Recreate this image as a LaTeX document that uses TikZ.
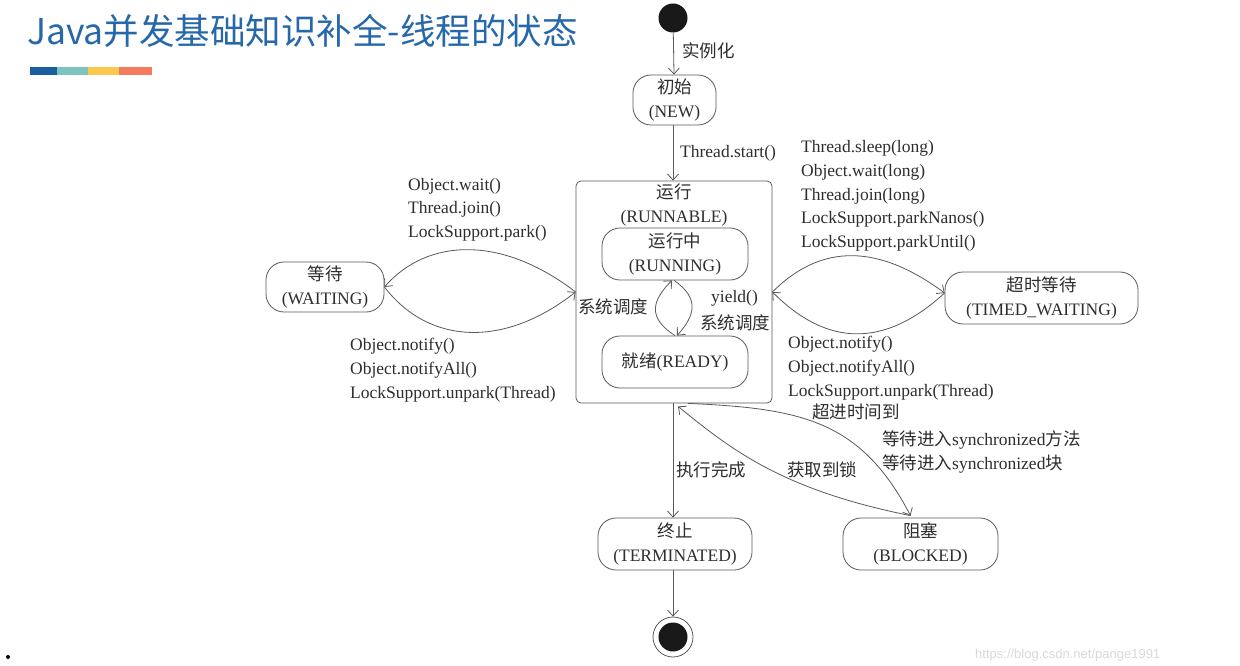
\documentclass[tikz,border=0pt]{standalone}
\usepackage{fontspec}
\setmainfont{Liberation Serif}
\newfontfamily\cjk{Noto Sans CJK SC}
\newfontfamily\wmfont{Liberation Sans}
\usetikzlibrary{arrows.meta}
\definecolor{ln}{HTML}{5A5A5A}
\definecolor{txt}{HTML}{2E2E2E}
\definecolor{titleblue}{HTML}{2668AA}
\definecolor{barA}{HTML}{1B5E9F}
\definecolor{barB}{HTML}{7DC3BF}
\definecolor{barC}{HTML}{FBC94E}
\definecolor{barD}{HTML}{F47B5B}
\begin{document}
\begin{tikzpicture}[x=1pt,y=-1pt,
  every node/.style={font=\fontsize{17.5}{24.5}\selectfont, text=txt, inner sep=0pt},
  state/.style={draw=ln, line width=0.8pt, rounded corners=18pt, align=center},
  arr/.style={draw=ln, line width=0.8pt, -{Straight Barb[length=6pt,width=11pt]}},
  lbl/.style={align=left, anchor=west, font=\fontsize{17.5}{23.7}\selectfont}
]
\useasboundingbox[fill=white] (0,0) rectangle (1240,666);

% title and colour bar
\node[anchor=west, font=\cjk\fontsize{35.5}{36}\selectfont, text=titleblue] (title) at (27,31) {Java并发基础知识补全-线程的状态};
\fill[barA] (30,67) rectangle (57,75);
\fill[barB] (57,67) rectangle (88,75);
\fill[barC] (88,67) rectangle (119,75);
\fill[barD] (119,67) rectangle (152,75);

% start / end
\node[circle, fill=black!90, minimum size=29pt] (start) at (673,18) {};
\node[circle, draw=ln, line width=0.8pt, fill=white, minimum size=40pt] (endo) at (673,637) {};
\node[circle, fill=black!90, minimum size=29pt] (endi) at (673,637) {};

% states
\node[state, minimum width=83pt, minimum height=50pt] (new) at (674.5,100) {{\cjk 初始}\\(NEW)};
\node[draw=ln, line width=0.8pt, rounded corners=5pt, minimum width=196pt, minimum height=222pt] (runnable) at (674,292) {};
\node[align=center] (runlbl) at (674,205) {{\cjk 运行}\\(RUNNABLE)};
\node[state, minimum width=146pt, minimum height=52pt] (running) at (675,254) {{\cjk 运行中}\\(RUNNING)};
\node[state, minimum width=146pt, minimum height=52pt] (ready) at (675,362) {{\cjk 就绪}(READY)};
\node[state, minimum width=118pt, minimum height=50pt] (waiting) at (325,287) {{\cjk 等待}\\(WAITING)};
\node[state, minimum width=193pt, minimum height=52pt] (timed) at (1041.5,298) {{\cjk 超时等待}\\(TIMED\_WAITING)};
\node[state, minimum width=154pt, minimum height=52pt] (term) at (675,544) {{\cjk 终止}\\(TERMINATED)};
\node[state, minimum width=155pt, minimum height=52pt] (blocked) at (920.5,544) {{\cjk 阻塞}\\(BLOCKED)};

% straight transitions
\draw[arr] (start) -- (new);
\draw[arr] (new.south -| start) -- (runnable.north -| start);
\draw[arr] (runnable.south -| start) -- (term.north -| start);
\draw[arr] (term.south -| start) -- (endo);

% running <-> ready loop
\draw[arr] ([xshift=0pt]ready.north) .. controls +(-28,-18) and +(-20,20) .. ([xshift=-3pt]running.south);
\draw[arr] ([xshift=-1pt]running.south) .. controls +(26,18) and +(18,-20) .. ([xshift=2pt]ready.north);

% waiting lens
\draw[arr] (runnable.west) .. controls +(-74,-57) and +(43,-49) .. (waiting.east);
\draw[arr] (waiting.east) .. controls +(43,56) and +(-74,58) .. (runnable.west);

% timed waiting lens
\draw[arr] (runnable.east) .. controls +(50,-50) and +(-65,-48) .. ([yshift=5pt]timed.west);
\draw[arr] ([yshift=5pt]timed.west) .. controls +(-60,55) and +(55,55) .. (runnable.east);

% blocked curves
\draw[arr] ([xshift=14pt]runnable.south) .. controls +(112,5) and +(-50,-96) .. ([xshift=-10pt,yshift=2pt]blocked.north);
\draw[arr] ([xshift=-10pt,yshift=2pt]blocked.north) .. controls +(-130,-26) and +(52,42) .. ([xshift=4pt,yshift=-3pt]runnable.south);

% labels
\node[lbl] (l1) at (682,51) {\cjk 实例化};
\node[lbl] (l2) at (680,153) {Thread.start()};
\node[lbl] (l3) at (408,209.5) {Object.wait()\\Thread.join()\\LockSupport.park()};
\node[lbl] (l4) at (350,370) {Object.notify()\\Object.notifyAll()\\LockSupport.unpark(Thread)};
\node[lbl] (l5) at (801,196) {Thread.sleep(long)\\Object.wait(long)\\Thread.join(long)\\LockSupport.parkNanos()\\LockSupport.parkUntil()};
\node[lbl] (l6) at (788,368) {Object.notify()\\Object.notifyAll()\\LockSupport.unpark(Thread)};
\node[lbl] (l7) at (812,412) {\cjk 超进时间到};
\node[lbl] (l8) at (882,452) {{\cjk 等待进入}synchronized{\cjk 方法}\\{\cjk 等待进入}synchronized{\cjk 块}};
\node[lbl] (l9) at (787,470) {\cjk 获取到锁};
\node[lbl] (l10) at (676,470) {\cjk 执行完成};
\node[lbl] (l11) at (578,307) {\cjk 系统调度};
\node[lbl] (l12) at (711,298) {yield()};
\node[lbl] (l13) at (700,323) {\cjk 系统调度};

% watermark and stray dot
\node[anchor=west, font=\wmfont\fontsize{13}{13}\selectfont, text=black!15] (wm) at (975,655) {https://blog.csdn.net/pange1991};
\fill[black] (8,657) circle (2pt);
\end{tikzpicture}
\end{document}
